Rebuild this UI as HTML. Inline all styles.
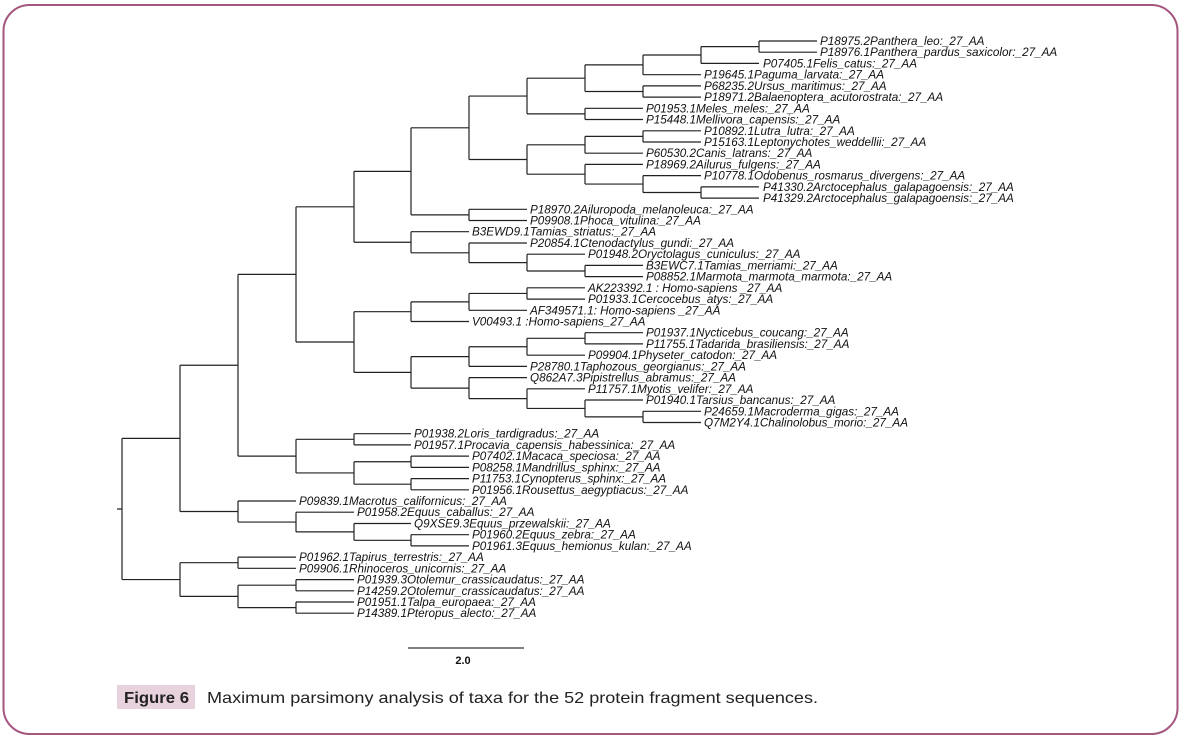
<!DOCTYPE html>
<html><head><meta charset="utf-8"><style>
html,body{margin:0;padding:0;background:#fff;}
svg{display:block;}
.t{font-family:"Liberation Sans",Arial,sans-serif;font-style:italic;font-size:11.7px;fill:#111;}
</style></head><body>
<svg width="1184" height="742" viewBox="0 0 1184 742" xmlns="http://www.w3.org/2000/svg">
<rect x="3.5" y="5" width="1174" height="729" rx="26" ry="26" fill="#fff" stroke="#a4567f" stroke-width="2"/>
<path fill="none" stroke="#222" stroke-width="1.2" d="
M122 438.4V579.55 M117 509H122 M122 438.4H180 M122 579.55H180
M180 365.25V511.5 M180 365.25H238 M180 511.5H238
M238 274.4V456.1 M238 274.4H296 M238 456.1H296
M296 206.8V342 M296 206.8H354 M296 342H354
M354 171.35V242.25 M354 171.35H411 M354 242.25H411
M411 127.8V214.9 M411 127.8H469 M411 214.9H469
M469 96.05V159.5 M469 96.05H527 M469 159.5H527
M527 78.2V113.9 M527 78.2H585 M527 113.9H585
M585 64.85V91.5 M585 64.85H643 M585 91.5H643
M643 55V74.7 M643 55H701 M643 74.7H701
M701 46.6V63.4 M701 46.6H759 M701 63.4H759
M759 41V52.2 M759 41H817 M759 52.2H817
M643 85.9V97.1 M643 85.9H701 M643 97.1H701
M585 108.3V119.5 M585 108.3H643 M585 119.5H643
M527 144.8V174.2 M527 144.8H585 M527 174.2H585
M585 136.4V153.2 M585 136.4H643 M585 153.2H643
M643 130.8V142 M643 130.8H701 M643 142H701
M585 164.4V184.05 M585 164.4H643 M585 184.05H643
M643 175.6V192.5 M643 175.6H701 M643 192.5H701
M701 186.9V198.1 M701 186.9H759 M701 198.1H759
M469 209.3V220.5 M469 209.3H527 M469 220.5H527
M411 231.7V252.8 M411 231.7H469 M411 252.8H469
M469 243V262.6 M469 243H527 M469 262.6H527
M527 254.2V271 M527 254.2H585 M527 271H585
M585 265.4V276.6 M585 265.4H643 M585 276.6H643
M354 311.7V372.35 M354 311.7H411 M354 372.35H411
M411 301.9V321.5 M411 301.9H469 M411 321.5H469
M469 293.45V310.3 M469 293.45H527 M469 310.3H527
M527 287.8V299.1 M527 287.8H585 M527 299.1H585
M411 356.6V388.1 M411 356.6H469 M411 388.1H469
M469 346.75V366.4 M469 346.75H527 M469 366.4H527
M527 338.3V355.2 M527 338.3H585 M527 355.2H585
M585 332.7V343.9 M585 332.7H643 M585 343.9H643
M469 377.6V398.6 M469 377.6H527 M469 398.6H527
M527 388.8V408.45 M527 388.8H585 M527 408.45H585
M585 400V416.9 M585 400H643 M585 416.9H643
M643 411.3V422.5 M643 411.3H701 M643 422.5H701
M296 439.3V472.95 M296 439.3H354 M296 472.95H354
M354 433.7V444.9 M354 433.7H411 M354 444.9H411
M354 461.75V484.2 M354 461.75H411 M354 484.2H411
M411 456.1V467.4 M411 456.1H469 M411 467.4H469
M411 478.6V489.8 M411 478.6H469 M411 489.8H469
M238 501V522.05 M238 501H296 M238 522.05H296
M296 512.2V531.9 M296 512.2H354 M296 531.9H354
M354 523.5V540.3 M354 523.5H411 M354 540.3H411
M411 534.7V545.9 M411 534.7H469 M411 545.9H469
M180 562.7V596.4 M180 562.7H238 M180 596.4H238
M238 557.1V568.3 M238 557.1H296 M238 568.3H296
M238 585.2V607.6 M238 585.2H296 M238 607.6H296
M296 579.6V590.8 M296 579.6H354 M296 590.8H354
M296 602V613.2 M296 602H354 M296 613.2H354
"/>
<g class="t">
<text x="820" y="45">P18975.2Panthera_leo:_27_AA</text>
<text x="820" y="56.2">P18976.1Panthera_pardus_saxicolor:_27_AA</text>
<text x="763" y="67.4">P07405.1Felis_catus:_27_AA</text>
<text x="704" y="78.7">P19645.1Paguma_larvata:_27_AA</text>
<text x="704" y="89.9">P68235.2Ursus_maritimus:_27_AA</text>
<text x="704" y="101.1">P18971.2Balaenoptera_acutorostrata:_27_AA</text>
<text x="646" y="112.3">P01953.1Meles_meles:_27_AA</text>
<text x="646" y="123.5">P15448.1Mellivora_capensis:_27_AA</text>
<text x="704" y="134.8">P10892.1Lutra_lutra:_27_AA</text>
<text x="704" y="146">P15163.1Leptonychotes_weddellii:_27_AA</text>
<text x="646" y="157.2">P60530.2Canis_latrans:_27_AA</text>
<text x="646" y="168.4">P18969.2Ailurus_fulgens:_27_AA</text>
<text x="704" y="179.6">P10778.1Odobenus_rosmarus_divergens:_27_AA</text>
<text x="763" y="190.9">P41330.2Arctocephalus_galapagoensis:_27_AA</text>
<text x="763" y="202.1">P41329.2Arctocephalus_galapagoensis:_27_AA</text>
<text x="530" y="213.3">P18970.2Ailuropoda_melanoleuca:_27_AA</text>
<text x="530" y="224.5">P09908.1Phoca_vitulina:_27_AA</text>
<text x="472" y="235.7">B3EWD9.1Tamias_striatus:_27_AA</text>
<text x="530" y="247">P20854.1Ctenodactylus_gundi:_27_AA</text>
<text x="588" y="258.2">P01948.2Oryctolagus_cuniculus:_27_AA</text>
<text x="646" y="269.4">B3EWC7.1Tamias_merriami:_27_AA</text>
<text x="646" y="280.6">P08852.1Marmota_marmota_marmota:_27_AA</text>
<text x="588" y="291.8">AK223392.1 : Homo-sapiens _27_AA</text>
<text x="588" y="303.1">P01933.1Cercocebus_atys:_27_AA</text>
<text x="530" y="314.3">AF349571.1: Homo-sapiens _27_AA</text>
<text x="472" y="325.5">V00493.1 :Homo-sapiens_27_AA</text>
<text x="646" y="336.7">P01937.1Nycticebus_coucang:_27_AA</text>
<text x="646" y="347.9">P11755.1Tadarida_brasiliensis:_27_AA</text>
<text x="588" y="359.2">P09904.1Physeter_catodon:_27_AA</text>
<text x="530" y="370.4">P28780.1Taphozous_georgianus:_27_AA</text>
<text x="530" y="381.6">Q862A7.3Pipistrellus_abramus:_27_AA</text>
<text x="588" y="392.8">P11757.1Myotis_velifer:_27_AA</text>
<text x="646" y="404">P01940.1Tarsius_bancanus:_27_AA</text>
<text x="704" y="415.3">P24659.1Macroderma_gigas:_27_AA</text>
<text x="704" y="426.5">Q7M2Y4.1Chalinolobus_morio:_27_AA</text>
<text x="414" y="437.7">P01938.2Loris_tardigradus:_27_AA</text>
<text x="414" y="448.9">P01957.1Procavia_capensis_habessinica:_27_AA</text>
<text x="472" y="460.1">P07402.1Macaca_speciosa:_27_AA</text>
<text x="472" y="471.4">P08258.1Mandrillus_sphinx:_27_AA</text>
<text x="472" y="482.6">P11753.1Cynopterus_sphinx:_27_AA</text>
<text x="472" y="493.8">P01956.1Rousettus_aegyptiacus:_27_AA</text>
<text x="299" y="505">P09839.1Macrotus_californicus:_27_AA</text>
<text x="357" y="516.2">P01958.2Equus_caballus:_27_AA</text>
<text x="414" y="527.5">Q9XSE9.3Equus_przewalskii:_27_AA</text>
<text x="472" y="538.7">P01960.2Equus_zebra:_27_AA</text>
<text x="472" y="549.9">P01961.3Equus_hemionus_kulan:_27_AA</text>
<text x="299" y="561.1">P01962.1Tapirus_terrestris:_27_AA</text>
<text x="299" y="572.3">P09906.1Rhinoceros_unicornis:_27_AA</text>
<text x="357" y="583.6">P01939.3Otolemur_crassicaudatus:_27_AA</text>
<text x="357" y="594.8">P14259.2Otolemur_crassicaudatus:_27_AA</text>
<text x="357" y="606">P01951.1Talpa_europaea:_27_AA</text>
<text x="357" y="617.2">P14389.1Pteropus_alecto:_27_AA</text>
</g>
<path d="M408 648H524" stroke="#333" stroke-width="1.3"/>
<text x="463" y="664" text-anchor="middle" font-family="Liberation Sans, Arial, sans-serif" font-weight="bold" font-size="11px" fill="#111">2.0</text>
<rect x="117" y="685" width="78" height="24" fill="#e8d2de"/>
<text x="124" y="703" font-family="Liberation Sans, Arial, sans-serif" font-weight="bold" font-size="16px" fill="#222" textLength="65" lengthAdjust="spacingAndGlyphs">Figure 6</text>
<text x="207" y="703" font-family="Liberation Sans, Arial, sans-serif" font-size="16px" fill="#222" textLength="611" lengthAdjust="spacingAndGlyphs">Maximum parsimony analysis of taxa for the 52 protein fragment sequences.</text>
</svg>
</body></html>
